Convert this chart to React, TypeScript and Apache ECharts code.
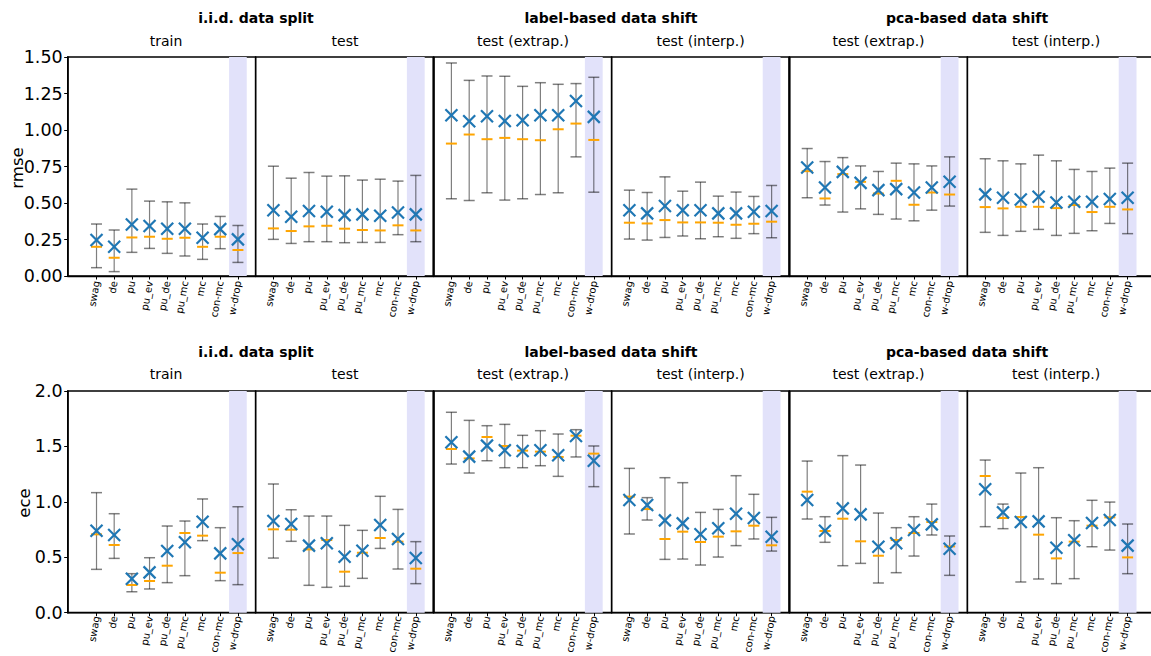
import React, { useEffect, useRef } from "react";
import * as echarts from "echarts";

// ---------------- data ----------------
const methods = ["swag", "de", "pu", "pu_ev", "pu_de", "pu_mc", "mc", "con-mc", "w-drop"];
const highlighted = "w-drop";
const groupTitles = ["i.i.d. data split", "label-based data shift", "pca-based data shift"];
const panelTitles = ["train", "test", "test (extrap.)", "test (interp.)", "test (extrap.)", "test (interp.)"];
const rowMetrics = ["rmse", "ece"];
const rmseTicks = [0, 0.25, 0.5, 0.75, 1.0, 1.25, 1.5];
const eceTicks = [0, 0.5, 1.0, 1.5, 2.0];

// rmse — i.i.d. train
const rmseTrainMean = [0.246, 0.2, 0.353, 0.342, 0.324, 0.324, 0.262, 0.321, 0.251];
const rmseTrainMedian = [0.2, 0.125, 0.264, 0.269, 0.255, 0.262, 0.2, 0.269, 0.178];
const rmseTrainLow = [0.057, 0.03, 0.162, 0.189, 0.155, 0.137, 0.114, 0.187, 0.093];
const rmseTrainHigh = [0.356, 0.315, 0.595, 0.513, 0.508, 0.501, 0.356, 0.408, 0.346];
// rmse — i.i.d. test
const rmseTestMean = [0.451, 0.406, 0.445, 0.44, 0.417, 0.422, 0.413, 0.435, 0.422];
const rmseTestMedian = [0.326, 0.308, 0.34, 0.344, 0.324, 0.315, 0.312, 0.347, 0.312];
const rmseTestLow = [0.251, 0.223, 0.235, 0.235, 0.228, 0.23, 0.23, 0.283, 0.235];
const rmseTestHigh = [0.752, 0.67, 0.709, 0.684, 0.686, 0.657, 0.663, 0.65, 0.689];
// rmse — label extrap
const rmseLabelExtrapMean = [1.101, 1.06, 1.094, 1.062, 1.067, 1.101, 1.101, 1.199, 1.09];
const rmseLabelExtrapMedian = [0.907, 0.969, 0.937, 0.946, 0.937, 0.93, 1.005, 1.044, 0.932];
const rmseLabelExtrapLow = [0.529, 0.517, 0.57, 0.52, 0.529, 0.558, 0.57, 0.816, 0.574];
const rmseLabelExtrapHigh = [1.459, 1.34, 1.37, 1.368, 1.299, 1.324, 1.313, 1.318, 1.361];
// rmse — label interp
const rmseLabelInterpMean = [0.451, 0.429, 0.479, 0.451, 0.451, 0.429, 0.429, 0.44, 0.445];
const rmseLabelInterpMedian = [0.365, 0.36, 0.383, 0.367, 0.367, 0.365, 0.351, 0.358, 0.372];
const rmseLabelInterpLow = [0.253, 0.246, 0.264, 0.274, 0.255, 0.269, 0.258, 0.29, 0.262];
const rmseLabelInterpHigh = [0.588, 0.572, 0.679, 0.581, 0.643, 0.547, 0.575, 0.545, 0.62];
// rmse — pca extrap
const rmsePcaExtrapMean = [0.743, 0.606, 0.713, 0.638, 0.588, 0.595, 0.572, 0.606, 0.645];
const rmsePcaExtrapMedian = [0.718, 0.531, 0.698, 0.645, 0.565, 0.652, 0.488, 0.572, 0.558];
const rmsePcaExtrapLow = [0.536, 0.486, 0.438, 0.46, 0.422, 0.39, 0.378, 0.451, 0.479];
const rmsePcaExtrapHigh = [0.873, 0.784, 0.811, 0.754, 0.716, 0.773, 0.768, 0.754, 0.816];
// rmse — pca interp
const rmsePcaInterpMean = [0.559, 0.536, 0.524, 0.543, 0.504, 0.508, 0.508, 0.527, 0.536];
const rmsePcaInterpMedian = [0.472, 0.463, 0.474, 0.474, 0.465, 0.486, 0.438, 0.474, 0.456];
const rmsePcaInterpLow = [0.299, 0.278, 0.306, 0.319, 0.278, 0.292, 0.31, 0.36, 0.29];
const rmsePcaInterpHigh = [0.803, 0.789, 0.768, 0.828, 0.789, 0.73, 0.716, 0.739, 0.773];

// ece — i.i.d. train
const eceTrainMean = [0.74, 0.701, 0.307, 0.364, 0.556, 0.635, 0.821, 0.535, 0.617];
const eceTrainMedian = [0.707, 0.611, 0.25, 0.286, 0.424, 0.719, 0.695, 0.361, 0.538];
const eceTrainLow = [0.391, 0.49, 0.189, 0.214, 0.271, 0.334, 0.65, 0.289, 0.253];
const eceTrainHigh = [1.083, 0.893, 0.352, 0.496, 0.782, 0.827, 1.026, 0.767, 0.956];
// ece — i.i.d. test
const eceTestMean = [0.827, 0.8, 0.605, 0.626, 0.505, 0.559, 0.791, 0.665, 0.493];
const eceTestMedian = [0.752, 0.749, 0.571, 0.656, 0.37, 0.541, 0.674, 0.641, 0.397];
const eceTestLow = [0.493, 0.644, 0.247, 0.229, 0.238, 0.31, 0.58, 0.394, 0.262];
const eceTestHigh = [1.161, 0.929, 0.872, 0.872, 0.788, 0.743, 1.05, 0.932, 0.641];
// ece — label extrap
const eceLabelExtrapMean = [1.537, 1.408, 1.507, 1.465, 1.459, 1.465, 1.42, 1.594, 1.371];
const eceLabelExtrapMedian = [1.477, 1.392, 1.585, 1.504, 1.462, 1.453, 1.405, 1.597, 1.435];
const eceLabelExtrapLow = [1.341, 1.26, 1.371, 1.308, 1.308, 1.326, 1.23, 1.405, 1.137];
const eceLabelExtrapHigh = [1.808, 1.735, 1.687, 1.699, 1.6, 1.642, 1.612, 1.651, 1.504];
// ece — label interp
const eceLabelInterpMean = [1.017, 0.971, 0.833, 0.806, 0.707, 0.761, 0.893, 0.854, 0.686];
const eceLabelInterpMedian = [1.047, 0.935, 0.665, 0.731, 0.638, 0.686, 0.734, 0.785, 0.608];
const eceLabelInterpLow = [0.71, 0.836, 0.481, 0.484, 0.43, 0.502, 0.605, 0.665, 0.556];
const eceLabelInterpHigh = [1.302, 1.038, 1.218, 1.173, 0.905, 0.932, 1.236, 1.068, 0.86];
// ece — pca extrap
const ecePcaExtrapMean = [1.017, 0.74, 0.941, 0.887, 0.595, 0.626, 0.746, 0.797, 0.577];
const ecePcaExtrapMedian = [1.092, 0.737, 0.848, 0.644, 0.514, 0.656, 0.719, 0.818, 0.598];
const ecePcaExtrapLow = [0.845, 0.635, 0.424, 0.445, 0.268, 0.361, 0.511, 0.701, 0.337];
const ecePcaExtrapHigh = [1.368, 0.866, 1.417, 1.332, 0.899, 0.767, 0.866, 0.98, 0.692];
// ece — pca interp
const ecePcaInterpMean = [1.113, 0.905, 0.818, 0.824, 0.586, 0.653, 0.809, 0.836, 0.605];
const ecePcaInterpMedian = [1.233, 0.854, 0.863, 0.704, 0.49, 0.641, 0.785, 0.86, 0.499];
const ecePcaInterpLow = [0.776, 0.758, 0.277, 0.304, 0.262, 0.307, 0.595, 0.565, 0.352];
const ecePcaInterpHigh = [1.377, 0.98, 1.26, 1.308, 0.857, 0.83, 1.014, 0.998, 0.8];

const rmsePanels = [
  [rmseTrainLow, rmseTrainHigh, rmseTrainMedian, rmseTrainMean],
  [rmseTestLow, rmseTestHigh, rmseTestMedian, rmseTestMean],
  [rmseLabelExtrapLow, rmseLabelExtrapHigh, rmseLabelExtrapMedian, rmseLabelExtrapMean],
  [rmseLabelInterpLow, rmseLabelInterpHigh, rmseLabelInterpMedian, rmseLabelInterpMean],
  [rmsePcaExtrapLow, rmsePcaExtrapHigh, rmsePcaExtrapMedian, rmsePcaExtrapMean],
  [rmsePcaInterpLow, rmsePcaInterpHigh, rmsePcaInterpMedian, rmsePcaInterpMean],
];
const ecePanels = [
  [eceTrainLow, eceTrainHigh, eceTrainMedian, eceTrainMean],
  [eceTestLow, eceTestHigh, eceTestMedian, eceTestMean],
  [eceLabelExtrapLow, eceLabelExtrapHigh, eceLabelExtrapMedian, eceLabelExtrapMean],
  [eceLabelInterpLow, eceLabelInterpHigh, eceLabelInterpMedian, eceLabelInterpMean],
  [ecePcaExtrapLow, ecePcaExtrapHigh, ecePcaExtrapMedian, ecePcaExtrapMean],
  [ecePcaInterpLow, ecePcaInterpHigh, ecePcaInterpMedian, ecePcaInterpMean],
];

// ---------------- layout ----------------
const FONT = "DejaVu Sans";
const colLefts = [67.7, 255.6, 433.6, 611.6, 789.4, 967.4];
const colRights = [255.6, 433.6, 611.6, 789.4, 967.4, 1152];
const colXMin = [-1.63, -1, -1, -1, -1, -1];
const colXMax = [9, 9, 9, 9, 9, 9.37];
const rowTops = [57, 391];
const rowBottoms = [276, 612.7];
const rowLabelMargin = [5, 3.5];
const groupCenters = [256, 611, 967];
const panelCenters = [166, 345, 523, 700.5, 878.5, 1056];
const groupSeparators = [433.6, 789.4];

const ERR = "rgba(0,0,0,0.5)";
const MEDIAN = "#ffa500";
const MEAN = "#1f77b4";
const BAND = "#e2e2fa";

function buildOption() {
  const grid: any[] = [];
  const xAxis: any[] = [];
  const yAxis: any[] = [];
  const series: any[] = [];
  const graphic: any[] = [];
  const tickIdx = methods.map((_, i) => i);
  const hiIdx = methods.indexOf(highlighted);

  [rmsePanels, ecePanels].forEach((panels, r) => {
    const yMax = r === 0 ? rmseTicks[rmseTicks.length - 1] : eceTicks[eceTicks.length - 1];
    const yInt = r === 0 ? rmseTicks[1] - rmseTicks[0] : eceTicks[1] - eceTicks[0];
    panels.forEach((p, c) => {
      const gi = grid.length;
      grid.push({
        left: colLefts[c],
        top: rowTops[r],
        width: colRights[c] - colLefts[c],
        height: rowBottoms[r] - rowTops[r],
        show: true,
        borderColor: "#000",
        borderWidth: 1.4,
        backgroundColor: "transparent",
        containLabel: false,
        outerBoundsMode: "none",
      });
      xAxis.push({
        type: "value",
        gridIndex: gi,
        min: colXMin[c],
        max: colXMax[c],
        axisLine: { show: true, onZero: false, lineStyle: { color: "#000", width: 1.4 } },
        axisTick: { show: true, customValues: tickIdx, length: 3.5, lineStyle: { color: "#000", width: 1 } },
        axisLabel: {
          show: true,
          customValues: tickIdx,
          rotate: 80,
          margin: rowLabelMargin[r],
          fontSize: 10,
          fontFamily: FONT,
          color: "#000",
          hideOverlap: false,
          formatter: (v: number) => methods[Math.round(v)] ?? "",
        },
        splitLine: { show: false },
      });
      yAxis.push({
        type: "value",
        gridIndex: gi,
        min: 0,
        max: yMax,
        interval: yInt,
        show: c === 0,
        axisLine: { show: true, onZero: false, lineStyle: { color: "#000", width: 1.6 } },
        axisTick: { show: true, length: 3.5, lineStyle: { color: "#000", width: 1 } },
        axisLabel: {
          show: true,
          margin: 5,
          fontSize: 17.5,
          fontFamily: FONT,
          color: "#000",
          formatter: (v: number) => (r === 0 ? v.toFixed(2) : v.toFixed(1)),
        },
        splitLine: { show: false },
      });
      // highlight band
      series.push({
        type: "custom",
        xAxisIndex: gi,
        yAxisIndex: gi,
        z: 1,
        silent: true,
        data: [[hiIdx]],
        renderItem: (params: any, api: any) => {
          const cs = params.coordSys;
          const a = api.coord([api.value(0) - 0.5, 0]);
          const b = api.coord([api.value(0) + 0.5, 0]);
          return {
            type: "rect",
            shape: { x: a[0], y: cs.y, width: b[0] - a[0], height: cs.height },
            style: { fill: BAND },
          };
        },
      });
      const [low, high, med, mean] = p;
      series.push({
        type: "custom",
        xAxisIndex: gi,
        yAxisIndex: gi,
        z: 3,
        silent: true,
        encode: { x: 0, y: [1, 2, 3, 4] },
        data: methods.map((_, i) => [i, low[i], high[i], med[i], mean[i]]),
        renderItem: (_params: any, api: any) => {
          const x = api.value(0);
          const lo = api.coord([x, api.value(1)]);
          const hi = api.coord([x, api.value(2)]);
          const md = api.coord([x, api.value(3)]);
          const mn = api.coord([x, api.value(4)]);
          const cw = 5.5;
          const mw = 5.5;
          const xs = 6;
          const errStyle = { stroke: ERR, lineWidth: 1.2, fill: null };
          const capStyle = { stroke: ERR, lineWidth: 1.5, fill: null };
          return {
            type: "group",
            children: [
              { type: "line", shape: { x1: lo[0], y1: lo[1], x2: hi[0], y2: hi[1] }, style: errStyle },
              { type: "line", shape: { x1: lo[0] - cw, y1: lo[1], x2: lo[0] + cw, y2: lo[1] }, style: capStyle },
              { type: "line", shape: { x1: hi[0] - cw, y1: hi[1], x2: hi[0] + cw, y2: hi[1] }, style: capStyle },
              { type: "line", shape: { x1: md[0] - mw, y1: md[1], x2: md[0] + mw, y2: md[1] }, style: { stroke: MEDIAN, lineWidth: 2, fill: null } },
              { type: "line", shape: { x1: mn[0] - xs, y1: mn[1] - xs, x2: mn[0] + xs, y2: mn[1] + xs }, style: { stroke: MEAN, lineWidth: 2.2, fill: null } },
              { type: "line", shape: { x1: mn[0] - xs, y1: mn[1] + xs, x2: mn[0] + xs, y2: mn[1] - xs }, style: { stroke: MEAN, lineWidth: 2.2, fill: null } },
            ],
          };
        },
      });
    });

    groupSeparators.forEach((sx) => {
      graphic.push({
        type: "line",
        z: 100,
        shape: { x1: sx, y1: rowTops[r], x2: sx, y2: rowBottoms[r] },
        style: { stroke: "#000", lineWidth: 2.2 },
      });
    });

    const groupY = r === 0 ? 18 : 352;
    const subY = r === 0 ? 41 : 374;
    groupTitles.forEach((t, g) => {
      graphic.push({
        type: "text",
        x: groupCenters[g],
        y: groupY,
        style: { text: t, font: `bold 14px '${FONT}'`, fill: "#000", textAlign: "center", textVerticalAlign: "middle" },
      });
    });
    panelTitles.forEach((t, c) => {
      graphic.push({
        type: "text",
        x: panelCenters[c],
        y: subY,
        style: { text: t, font: `14px '${FONT}'`, fill: "#000", textAlign: "center", textVerticalAlign: "middle" },
      });
    });
    graphic.push({
      type: "text",
      x: r === 0 ? 17 : 24,
      y: r === 0 ? 168 : 503,
      rotation: Math.PI / 2,
      style: { text: rowMetrics[r], font: `16.5px '${FONT}'`, fill: "#000", textAlign: "center", textVerticalAlign: "middle" },
    });
  });

  return { animation: false, backgroundColor: "#fff", grid, xAxis, yAxis, series, graphic };
}

export default function App() {
  const ref = useRef<HTMLDivElement>(null);
  useEffect(() => {
    if (!ref.current) return;
    const chart = echarts.init(ref.current, undefined, { renderer: "svg" });
    chart.setOption(buildOption() as any);
    return () => chart.dispose();
  }, []);
  return <div ref={ref} style={{ position: "absolute", left: 0, top: 0, width: 1151, height: 656 }} />;
}
